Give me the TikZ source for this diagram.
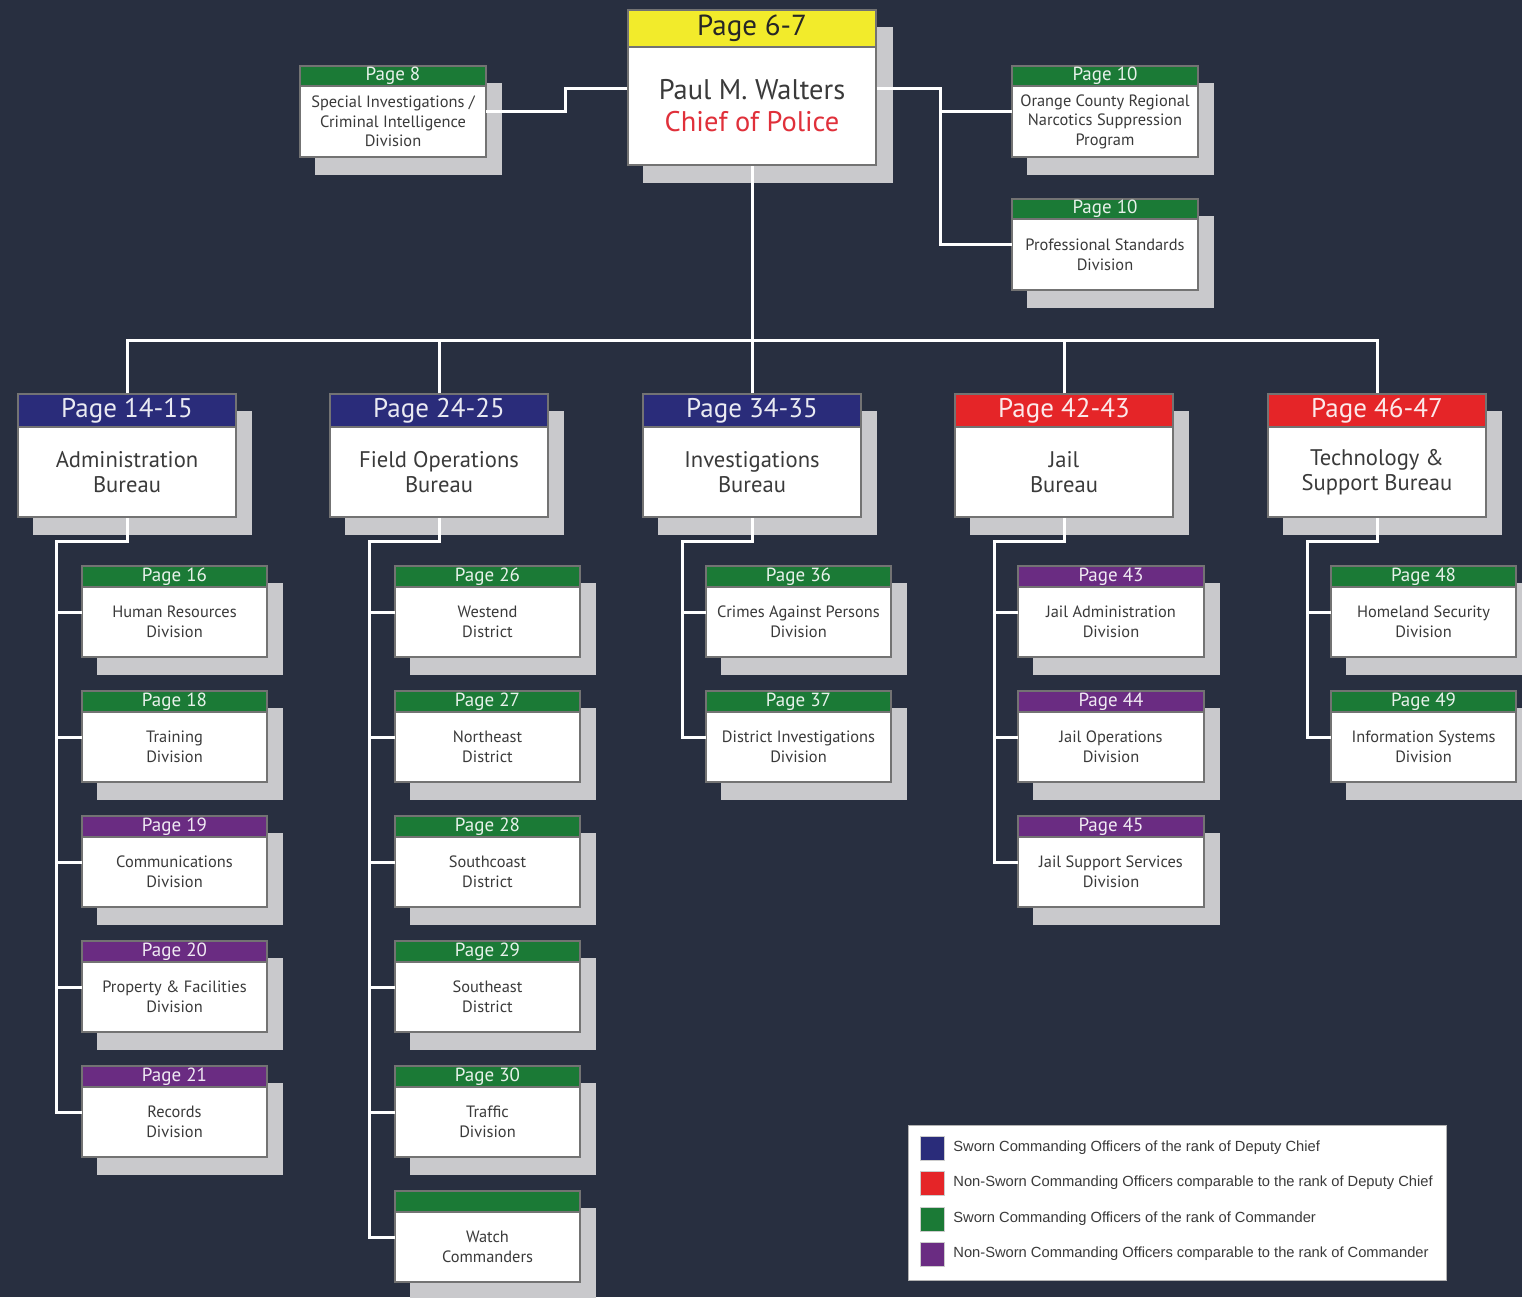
\documentclass[tikz,border=0pt]{standalone}
\usepackage{fontspec}
\setmainfont{PT Sans}
\newfontfamily\legfont{Liberation Sans}
\pgfdeclarelayer{back}
\pgfdeclarelayer{bg}
\pgfsetlayers{back,bg,main}
\definecolor{bgc}{HTML}{282F40}
\definecolor{shadowc}{HTML}{C9C9CC}
\definecolor{navyc}{HTML}{2A2C7A}
\definecolor{redc}{HTML}{E52528}
\definecolor{greenc}{HTML}{1B7A36}
\definecolor{purplec}{HTML}{6A2C82}
\definecolor{yellowc}{HTML}{F2EB2B}
\definecolor{chiefred}{HTML}{E0303A}
\definecolor{txtc}{HTML}{3A3A3A}
\newcommand\obox[9]{%
  \begin{pgfonlayer}{bg}\fill[shadowc] (#2+15,#3+17) rectangle (#2+#4+16,#3+#5+#6+18);\end{pgfonlayer}
  \node[hdr,fill=#7,text=#7!10!white,minimum width=#4*0.5pt,minimum height=#5*0.5pt] (#1h) at (#2+#4/2,#3+#5/2) {#8};
  \node[bodyst,minimum width=#4*0.5pt,minimum height=#6*0.5pt] (#1) at (#2+#4/2,#3+#5+#6/2) {#9};
  \coordinate (#1-s) at (#2,#3+#5+25);
  \coordinate (#1-r) at (#2+#4,#3+#5+25);
}
\begin{document}
\begin{tikzpicture}[x=0.5pt,y=-0.5pt,
  conn/.style={draw=white,line width=1.5pt},
  hdrbase/.style={draw=black!55,line width=0.6pt,inner sep=0pt,align=center},
  bodybase/.style={fill=white,draw=black!55,line width=1pt,inner sep=0pt,align=center,text=txtc},
  hdr/.style={hdrbase,font=\fontsize{9.5}{11}\selectfont},
  bodyst/.style={bodybase,font=\fontsize{8.2}{9.8}\selectfont},
  legsq/.style={minimum width=12pt,minimum height=12pt,inner sep=0pt,draw=black!20},
  legtxt/.style={anchor=west,inner sep=0pt,text=txtc,font=\legfont\fontsize{7.35}{8}\selectfont}]
\useasboundingbox (0,0) rectangle (1522,1297);
\begin{pgfonlayer}{back}\fill[bgc] (0,0) rectangle (1522,1297);\end{pgfonlayer}

% ---- Chief
\begin{pgfonlayer}{bg}\fill[shadowc] (643,27) rectangle (893,183);\end{pgfonlayer}
\node[hdrbase,fill=yellowc,text=black!85,minimum width=124pt,minimum height=18.5pt,font=\fontsize{14.5}{16}\selectfont] (chiefh) at (752,28.5) {Page 6-7};
\node[bodybase,minimum width=124pt,minimum height=59pt,font=\fontsize{14.2}{16}\selectfont] (chief) at (752,106) {Paul M. Walters\\{\color{chiefred}Chief of Police}};

% ---- top side boxes
\obox{sp}{300}{66}{186}{20}{71}{greenc}{Page 8}{Special Investigations /\\Criminal Intelligence\\Division}
\obox{oc}{1012}{66}{186}{20}{71}{greenc}{Page 10}{Orange County Regional\\Narcotics Suppression\\Program}
\obox{ps}{1012}{199}{186}{20}{71}{greenc}{Page 10}{Professional Standards\\Division}

% ---- Bureaus
\begin{scope}[hdr/.style={hdrbase,font=\fontsize{13.5}{15}\selectfont},
              bodyst/.style={bodybase,font=\fontsize{11.3}{12.6}\selectfont}]
\obox{b1}{18}{394}{218}{33}{90}{navyc}{Page 14-15}{Administration\\Bureau}
\obox{b2}{330}{394}{218}{33}{90}{navyc}{Page 24-25}{Field Operations\\Bureau}
\obox{b3}{643}{394}{218}{33}{90}{navyc}{Page 34-35}{Investigations\\Bureau}
\obox{b4}{955}{394}{218}{33}{90}{redc}{Page 42-43}{Jail\\Bureau}
\obox{b5}{1268}{394}{218}{33}{90}{redc}{Page 46-47}{Technology \&\\Support Bureau}
\end{scope}

% ---- Divisions: Administration
\obox{d16}{82}{566}{185}{21}{70}{greenc}{Page 16}{Human Resources\\Division}
\obox{d18}{82}{691}{185}{21}{70}{greenc}{Page 18}{Training\\Division}
\obox{d19}{82}{816}{185}{21}{70}{purplec}{Page 19}{Communications\\Division}
\obox{d20}{82}{941}{185}{21}{70}{purplec}{Page 20}{Property \& Facilities\\Division}
\obox{d21}{82}{1066}{185}{21}{70}{purplec}{Page 21}{Records\\Division}
% Field Operations
\obox{d26}{395}{566}{185}{21}{70}{greenc}{Page 26}{Westend\\District}
\obox{d27}{395}{691}{185}{21}{70}{greenc}{Page 27}{Northeast\\District}
\obox{d28}{395}{816}{185}{21}{70}{greenc}{Page 28}{Southcoast\\District}
\obox{d29}{395}{941}{185}{21}{70}{greenc}{Page 29}{Southeast\\District}
\obox{d30}{395}{1066}{185}{21}{70}{greenc}{Page 30}{Traffic\\Division}
\obox{dwc}{395}{1191}{185}{21}{70}{greenc}{}{Watch\\Commanders}
% Investigations
\obox{d36}{706}{566}{185}{21}{70}{greenc}{Page 36}{Crimes Against Persons\\Division}
\obox{d37}{706}{691}{185}{21}{70}{greenc}{Page 37}{District Investigations\\Division}
% Jail
\obox{d43}{1018}{566}{186}{21}{70}{purplec}{Page 43}{Jail Administration\\Division}
\obox{d44}{1018}{691}{186}{21}{70}{purplec}{Page 44}{Jail Operations\\Division}
\obox{d45}{1018}{816}{186}{21}{70}{purplec}{Page 45}{Jail Support Services\\Division}
% Technology
\obox{d48}{1331}{566}{185}{21}{70}{greenc}{Page 48}{Homeland Security\\Division}
\obox{d49}{1331}{691}{185}{21}{70}{greenc}{Page 49}{Information Systems\\Division}

% ---- connectors top
\coordinate (yL) at (565,88);
\coordinate (yR) at (940,88);
\coordinate (bus) at (752,340);
\draw[conn] (chief.west|-yL) -- (yL) |- (sp-r);
\draw[conn] (chief.east|-yR) -- (yR) |- (ps-s);
\draw[conn] (oc-s) -- (oc-s-|yR);
\draw[conn] (chief.south) -- (bus);
\draw[conn] (b1h.north) |- (b5h.north|-bus) -- (b5h.north);
\draw[conn] (b2h.north) -- (b2h.north|-bus);
\draw[conn] (b3h.north) -- (b3h.north|-bus);
\draw[conn] (b4h.north) -- (b4h.north|-bus);

% ---- trunks
\coordinate (t1) at (56,541);
\coordinate (t2) at (369,541);
\coordinate (t3) at (682,541);
\coordinate (t4) at (994,541);
\coordinate (t5) at (1307,541);
\draw[conn] (b1.south) |- (t1) |- (d21-s);
\foreach \n in {d16,d18,d19,d20} \draw[conn] (\n-s) -- (\n-s-|t1);
\draw[conn] (b2.south) |- (t2) |- (dwc-s);
\foreach \n in {d26,d27,d28,d29,d30} \draw[conn] (\n-s) -- (\n-s-|t2);
\draw[conn] (b3.south) |- (t3) |- (d37-s);
\draw[conn] (d36-s) -- (d36-s-|t3);
\draw[conn] (b4.south) |- (t4) |- (d45-s);
\foreach \n in {d43,d44} \draw[conn] (\n-s) -- (\n-s-|t4);
\draw[conn] (b5.south) |- (t5) |- (d49-s);
\draw[conn] (d48-s) -- (d48-s-|t5);

% ---- legend
\node[draw=black!30,fill=white,minimum width=269pt,minimum height=77.5pt,inner sep=0pt] (leg) at (1177,1202.5) {};
\node[legsq,fill=navyc] (l1) at (932,1148) {};
\node[legsq,fill=redc] (l2) at (932,1183) {};
\node[legsq,fill=greenc] (l3) at (932,1219) {};
\node[legsq,fill=purplec] (l4) at (932,1254) {};
\node[legtxt] (l1t) at (953,1148) {Sworn Commanding Officers of the rank of Deputy Chief};
\node[legtxt] (l2t) at (953,1183) {Non-Sworn Commanding Officers comparable to the rank of Deputy Chief};
\node[legtxt] (l3t) at (953,1219) {Sworn Commanding Officers of the rank of Commander};
\node[legtxt] (l4t) at (953,1254) {Non-Sworn Commanding Officers comparable to the rank of Commander};
\end{tikzpicture}
\end{document}
